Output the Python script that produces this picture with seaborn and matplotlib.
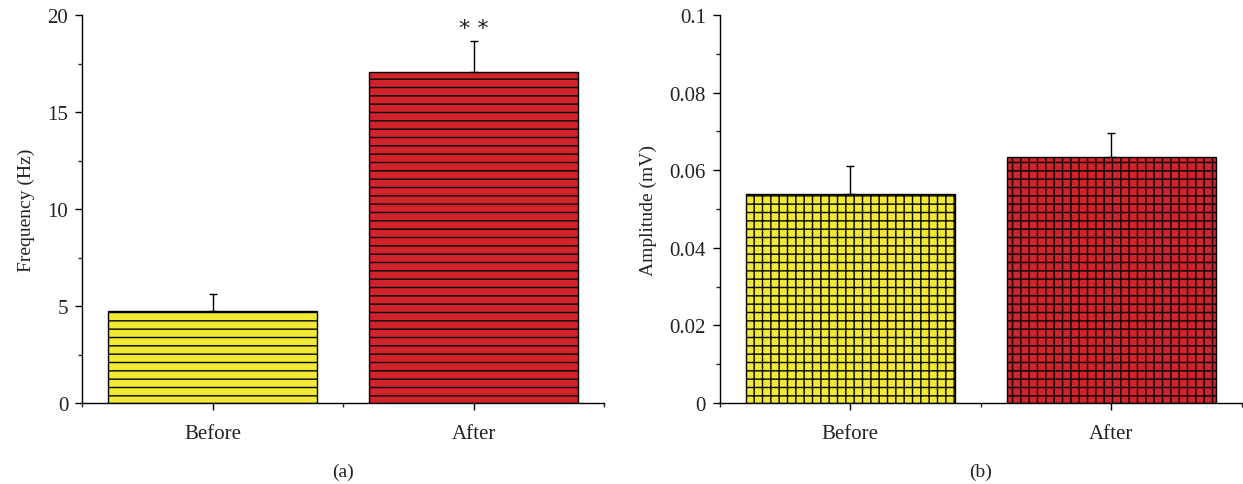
import numpy as np
import pandas as pd
import matplotlib
matplotlib.use('Agg')
import matplotlib.pyplot as plt
from matplotlib.ticker import MultipleLocator, FuncFormatter
import seaborn as sns

# values
groups = ['Before', 'After']
freq_mean = [4.72, 17.08]
freq_err = [0.90, 1.58]
amp_mean = [0.0539, 0.0634]
amp_err = [0.0072, 0.0062]
bar_colors = ['#f1e935', '#d1232a']

sns.set_theme(style='ticks')
plt.rcParams['font.family'] = ['Liberation Serif', 'DejaVu Serif']
plt.rcParams['hatch.linewidth'] = 1.0
plt.rcParams['hatch.color'] = 'black'

fig = plt.figure(figsize=(12.43, 4.85), dpi=100)
ax1 = fig.add_axes([0.066, 0.167, 0.420, 0.800])
ax2 = fig.add_axes([0.579, 0.167, 0.420, 0.800])

df_a = pd.DataFrame({'group': groups, 'value': freq_mean})
df_b = pd.DataFrame({'group': groups, 'value': amp_mean})


def draw_panel(ax, df, err, hatch, ylim, major, ylabel, tag, fmt):
    sns.barplot(data=df, x='group', y='value', hue='group', palette=bar_colors,
                order=groups, width=0.8, edgecolor='black', linewidth=1.0,
                saturation=1, legend=False, ax=ax, errorbar=None)
    for p in ax.patches:
        p.set_hatch(hatch)
    ax.errorbar(range(len(groups)), df['value'],
                yerr=[np.zeros(len(err)), err], fmt='none',
                ecolor='black', elinewidth=1.0, capsize=3, capthick=1.0)
    ax.set_xlim(-0.5, 1.5)
    ax.set_ylim(*ylim)
    ax.yaxis.set_major_locator(MultipleLocator(major))
    ax.yaxis.set_minor_locator(MultipleLocator(major / 2))
    ax.yaxis.set_major_formatter(FuncFormatter(fmt))
    ax.set_xticks([0, 1], minor=False)
    ax.set_xticks([-0.5, 0.5, 1.5], minor=True)
    ax.set_xlabel(tag, fontsize=14, labelpad=14, color='#222222')
    ax.set_ylabel(ylabel, fontsize=14, labelpad=9, color='#222222')
    ax.tick_params(axis='both', which='major', length=5, width=1,
                   direction='out', labelsize=15, colors='black',
                   labelcolor='#222222')
    ax.tick_params(axis='both', which='minor', length=3, width=1, direction='out')
    ax.tick_params(axis='x', pad=10)
    ax.tick_params(axis='y', pad=5)
    sns.despine(ax=ax)
    for s in ['left', 'bottom']:
        ax.spines[s].set_linewidth(1.0)
        ax.spines[s].set_color('black')


draw_panel(ax1, df_a, freq_err, '--', (0, 20), 5, 'Frequency (Hz)', '(a)',
           lambda v, pos: '%g' % v)
draw_panel(ax2, df_b, amp_err, '++', (0, 0.1), 0.02, 'Amplitude (mV)', '(b)',
           lambda v, pos: '0' if abs(v) < 1e-12 else '%g' % round(v, 4))

# significance marker above the After bar
ax1.text(1, freq_mean[1] + freq_err[1] + 0.15, '* *', ha='center', va='bottom',
         fontsize=16, color='#222222', family=['DejaVu Sans'])

fig.savefig('out.png', dpi=100)
